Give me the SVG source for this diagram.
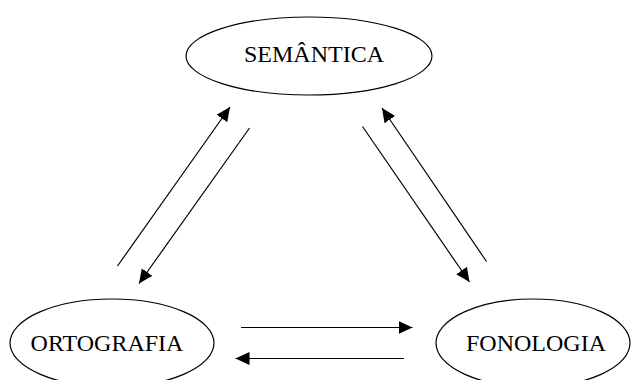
<svg xmlns="http://www.w3.org/2000/svg" width="631" height="380" viewBox="0 0 631 380">
<style>
.node ellipse{fill:#fff;stroke:#000;stroke-width:1.2}
.node text{font-family:"Liberation Serif","Times New Roman",serif;font-size:24px;fill:#000;text-anchor:middle}
.edges line{stroke:#000;stroke-width:1.2;marker-end:url(#ah)}
</style>
<defs>
<marker id="ah" markerUnits="userSpaceOnUse" markerWidth="14" markerHeight="14" refX="14" refY="6.5" orient="auto" viewBox="0 0 14 13">
<path d="M0,0 L14,6.5 L0,13 z" fill="#000"/>
</marker>
</defs>
<rect width="631" height="380" fill="#fff"/>
<g id="semantica" class="node">
<ellipse cx="309" cy="56" rx="123" ry="39"/>
<text x="314" y="62">SEMÂNTICA</text>
</g>
<g id="ortografia" class="node">
<ellipse cx="112" cy="343" rx="102" ry="44"/>
<text x="107" y="351">ORTOGRAFIA</text>
</g>
<g id="fonologia" class="node">
<ellipse cx="533" cy="343" rx="97" ry="44"/>
<text x="536" y="351">FONOLOGIA</text>
</g>
<g id="connectors" class="edges">
<line x1="117.5" y1="266" x2="230" y2="107"/>
<line x1="249.5" y1="128" x2="139" y2="283.5"/>
<line x1="362.5" y1="126.5" x2="469.5" y2="282"/>
<line x1="486.5" y1="261.5" x2="382" y2="108"/>
<line x1="241" y1="327.5" x2="412.5" y2="327.5"/>
<line x1="404" y1="358.5" x2="235.5" y2="358.5"/>
</g>
</svg>
